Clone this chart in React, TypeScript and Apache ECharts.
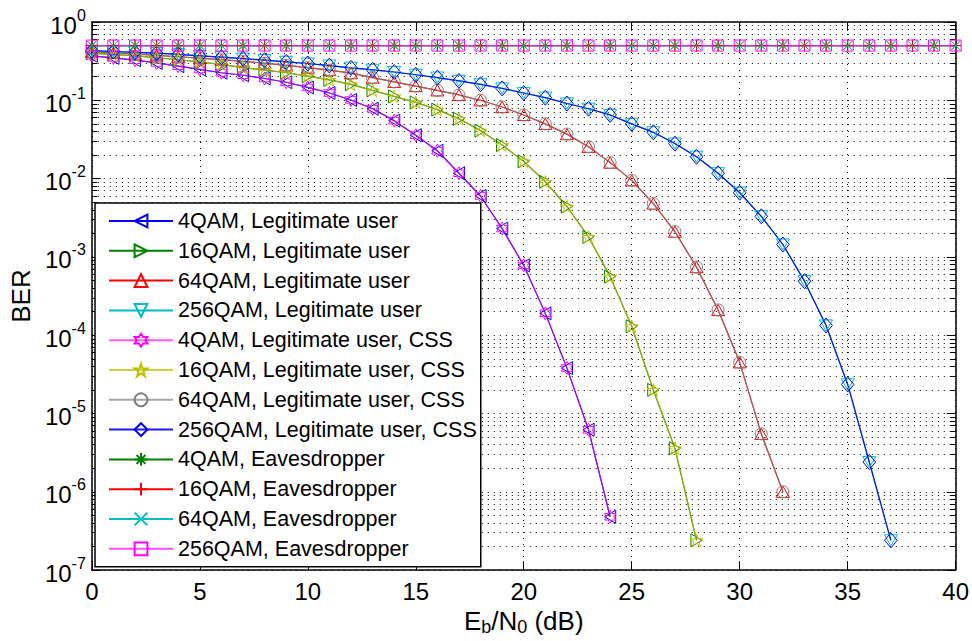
import React, { useEffect, useRef } from 'react';
import * as echarts from 'echarts';

// ---------------- data ----------------
const EBN0_4QAM = [0, 1, 2, 3, 4, 5, 6, 7, 8, 9, 10, 11, 12, 13, 14, 15, 16, 17, 18, 19, 20, 21, 22, 23, 24];
const BER_4QAM = [0.37, 0.348, 0.325, 0.3, 0.273, 0.248, 0.225, 0.209, 0.19, 0.17, 0.146, 0.124, 0.101, 0.078, 0.055, 0.0358, 0.0227, 0.0117, 0.006, 0.0023, 7.8e-4, 1.9e-4, 3.8e-5, 6.2e-6, 4.8e-7];

const EBN0_16QAM = [0, 1, 2, 3, 4, 5, 6, 7, 8, 9, 10, 11, 12, 13, 14, 15, 16, 17, 18, 19, 20, 21, 22, 23, 24, 25, 26, 27, 28];
const BER_16QAM = [0.4, 0.384, 0.372, 0.348, 0.332, 0.307, 0.287, 0.262, 0.243, 0.225, 0.204, 0.182, 0.16, 0.134, 0.112, 0.094, 0.076, 0.058, 0.041, 0.0268, 0.0166, 0.0091, 0.0044, 0.0018, 5.6e-4, 1.3e-4, 2.0e-5, 3.6e-6, 2.4e-7];

const EBN0_64QAM = [0, 1, 2, 3, 4, 5, 6, 7, 8, 9, 10, 11, 12, 13, 14, 15, 16, 17, 18, 19, 20, 21, 22, 23, 24, 25, 26, 27, 28, 29, 30, 31, 32];
const BER_64QAM = [0.415, 0.405, 0.39, 0.375, 0.36, 0.345, 0.33, 0.315, 0.298, 0.28, 0.262, 0.243, 0.222, 0.195, 0.172, 0.152, 0.134, 0.117, 0.1, 0.082, 0.065, 0.05, 0.037, 0.0255, 0.016, 0.0095, 0.0048, 0.0021, 7.4e-4, 2.1e-4, 4.5e-5, 5.5e-6, 1.0e-6];

const EBN0_256QAM = [0, 1, 2, 3, 4, 5, 6, 7, 8, 9, 10, 11, 12, 13, 14, 15, 16, 17, 18, 19, 20, 21, 22, 23, 24, 25, 26, 27, 28, 29, 30, 31, 32, 33, 34, 35, 36, 37];
const BER_256QAM = [0.43, 0.42, 0.41, 0.4, 0.385, 0.37, 0.355, 0.34, 0.325, 0.31, 0.295, 0.278, 0.26, 0.245, 0.23, 0.212, 0.195, 0.177, 0.16, 0.142, 0.124, 0.108, 0.091, 0.078, 0.065, 0.05, 0.039, 0.028, 0.019, 0.0117, 0.0066, 0.0033, 0.00144, 4.9e-4, 1.33e-4, 2.35e-5, 2.4e-6, 2.4e-7];

const EBN0_EVE = [0, 1, 2, 3, 4, 5, 6, 7, 8, 9, 10, 11, 12, 13, 14, 15, 16, 17, 18, 19, 20, 21, 22, 23, 24, 25, 26, 27, 28, 29, 30, 31, 32, 33, 34, 35, 36, 37, 38, 39, 40];
const BER_EVE = [0.5, 0.5, 0.5, 0.5, 0.5, 0.5, 0.5, 0.5, 0.5, 0.5, 0.5, 0.5, 0.5, 0.5, 0.5, 0.5, 0.5, 0.5, 0.5, 0.5, 0.5, 0.5, 0.5, 0.5, 0.5, 0.5, 0.5, 0.5, 0.5, 0.5, 0.5, 0.5, 0.5, 0.5, 0.5, 0.5, 0.5, 0.5, 0.5, 0.5, 0.5];

const LEGEND_NAMES = [
  '4QAM, Legitimate user',
  '16QAM, Legitimate user',
  '64QAM, Legitimate user',
  '256QAM, Legitimate user',
  '4QAM, Legitimate user, CSS',
  '16QAM, Legitimate user, CSS',
  '64QAM, Legitimate user, CSS',
  '256QAM, Legitimate user, CSS',
  '4QAM, Eavesdropper',
  '16QAM, Eavesdropper',
  '64QAM, Eavesdropper',
  '256QAM, Eavesdropper',
];

const X_TICKS = { min: 0, max: 40, interval: 5 };
const Y_DECADES = [-7, -6, -5, -4, -3, -2, -1];
const Y_MINOR_MULT = [2, 3, 4, 5, 6, 7, 8, 9];

// ---------------- styles ----------------
const FONT = '"Liberation Sans", Arial, Helvetica, sans-serif';

function starPath(points: number, rOuter: number, rInner: number, start: number) {
  let d = '';
  for (let i = 0; i < points * 2; i++) {
    const r = i % 2 === 0 ? rOuter : rInner;
    const a = start + (i * Math.PI) / points;
    const x = 50 + r * Math.cos(a);
    const y = 50 + r * Math.sin(a);
    d += (i === 0 ? 'M' : 'L') + x.toFixed(2) + ',' + y.toFixed(2) + ' ';
  }
  return 'path://' + d + 'Z';
}

const SYM = {
  triLeft: 'path://M0,50 L86,0 L86,100 Z',
  triRight: 'path://M86,50 L0,0 L0,100 Z',
  triUp: 'path://M50,0 L100,86 L0,86 Z',
  triDown: 'path://M0,0 L100,0 L50,86 Z',
  hexagram: starPath(6, 50, 50 / Math.sqrt(3), -Math.PI / 2),
  pentagram: starPath(5, 50, 19.1, -Math.PI / 2),
  circle: 'circle',
  diamond: 'path://M50,0 L92,50 L50,100 L8,50 Z',
  asterisk: 'path://M50,0 L50,100 M0,50 L100,50 M15,15 L85,85 M15,85 L85,15',
  plus: 'path://M50,0 L50,100 M0,50 L100,50',
  cross: 'path://M0,0 L100,100 M0,100 L100,0',
  square: 'path://M0,0 L100,0 L100,100 L0,100 Z',
};

function mkSeries(name: string, xs: number[], ys: number[], color: string, symbol: string, size: number | number[], opacity = 1) {
  return {
    type: 'line',
    name,
    data: xs.map((x, i) => [x, ys[i]]),
    symbol,
    symbolSize: size,
    symbolKeepAspect: true,
    showSymbol: true,
    showAllSymbol: true,
    silent: true,
    z: 3,
    lineStyle: { color, width: 1.2, opacity },
    itemStyle: { color: 'rgba(0,0,0,0)', borderColor: color, borderWidth: 1 },
    emphasis: { disabled: true },
  };
}

const BLUE = '#0000ff';
const GREEN = '#008000';
const RED = '#ff0000';
const CYAN = '#00bfbf';
const MAGENTA = '#ff00ff';
const YELLOW = '#bfbf00';
const GRAY = '#808080';

const minorValues: number[] = [];
Y_DECADES.forEach((e) => Y_MINOR_MULT.forEach((m) => minorValues.push(m * Math.pow(10, e))));

const axisLineStyle = { color: '#000', width: 1.5 };
const gridDots = { color: '#000', width: 1, type: [1, 5] as any };

const option: any = {
  animation: false,
  backgroundColor: '#fff',
  grid: { left: 88, right: 12, top: 22, bottom: 64, containLabel: false },
  legend: {
    data: LEGEND_NAMES,
    orient: 'vertical',
    left: 95,
    top: 203,
    backgroundColor: '#fff',
    borderColor: '#000',
    borderWidth: 1.5,
    borderRadius: 0,
    padding: [7, 4, 7, 13],
    itemWidth: 64,
    itemHeight: 16,
    itemGap: 7.8,
    selectedMode: false,
    textStyle: { fontSize: 21.5, fontFamily: FONT, color: '#000', lineHeight: 22 },
  },
  xAxis: [
    {
      type: 'value',
      ...X_TICKS,
      position: 'bottom',
      axisLine: { show: true, onZero: false, lineStyle: axisLineStyle },
      axisTick: { show: true, inside: true, length: 9, lineStyle: { color: '#000', width: 1 } },
      axisLabel: { fontSize: 24, fontFamily: FONT, color: '#000', margin: 9 },
      splitLine: { show: true, lineStyle: gridDots },
      name: '{n|E}{sub|b}{n|/N}{sub|0}{n| (dB)}',
      nameLocation: 'middle',
      nameGap: 32,
      nameTextStyle: {
        rich: {
          n: { fontSize: 26, fontFamily: FONT, color: '#000', lineHeight: 28, verticalAlign: 'top' },
          sub: { fontSize: 18, fontFamily: FONT, color: '#000', lineHeight: 12, verticalAlign: 'bottom' },
        },
      },
    },
    {
      type: 'value',
      ...X_TICKS,
      position: 'top',
      axisLine: { show: true, onZero: false, lineStyle: axisLineStyle },
      axisTick: { show: true, inside: true, length: 9, lineStyle: { color: '#000', width: 1 } },
      axisLabel: { show: false },
      splitLine: { show: false },
    },
  ],
  yAxis: [
    {
      type: 'log',
      logBase: 10,
      min: 1e-7,
      max: 1,
      interval: 1,
      position: 'left',
      axisLine: { show: true, onZero: false, lineStyle: axisLineStyle },
      axisTick: { show: true, inside: true, length: 9, lineStyle: { color: '#000', width: 1 } },
      axisLabel: {
        margin: 6,
        formatter: (v: number) => `{b|10}{s|${Math.round(Math.log10(v))}}`,
        rich: {
          b: { fontSize: 24, fontFamily: FONT, color: '#000', lineHeight: 30, verticalAlign: 'bottom' },
          s: { fontSize: 16, fontFamily: FONT, color: '#000', lineHeight: 12, verticalAlign: 'top' },
        },
      },
      splitLine: { show: true, lineStyle: gridDots },
      name: 'BER',
      nameLocation: 'middle',
      nameGap: 52,
      nameTextStyle: { fontSize: 26, fontFamily: FONT, color: '#000' },
    },
    {
      type: 'log',
      logBase: 10,
      min: 1e-7,
      max: 1,
      interval: 1,
      position: 'right',
      axisLine: { show: true, onZero: false, lineStyle: axisLineStyle },
      axisTick: { show: true, inside: true, length: 9, lineStyle: { color: '#000', width: 1 } },
      axisLabel: { show: false },
      splitLine: { show: false },
    },
  ],
  series: [
    {
      type: 'lines',
      coordinateSystem: 'cartesian2d',
      xAxisIndex: 0,
      yAxisIndex: 0,
      silent: true,
      z: 1,
      lineStyle: { color: '#000', width: 1, type: [1, 5], opacity: 1, curveness: 0 },
      data: minorValues.map((v) => ({ coords: [[X_TICKS.min, v], [X_TICKS.max, v]] })),
    },
    {
      type: 'lines',
      coordinateSystem: 'cartesian2d',
      xAxisIndex: 0,
      yAxisIndex: 0,
      silent: true,
      z: 1,
      lineStyle: { color: '#000', width: 1, type: 'solid', opacity: 1, curveness: 0 },
      data: minorValues.flatMap((v) => [
        { coords: [[X_TICKS.min, v], [X_TICKS.min + 0.25, v]] },
        { coords: [[X_TICKS.max, v], [X_TICKS.max - 0.25, v]] },
      ]),
    },
    mkSeries(LEGEND_NAMES[0], EBN0_4QAM, BER_4QAM, BLUE, SYM.triLeft, 13),
    mkSeries(LEGEND_NAMES[1], EBN0_16QAM, BER_16QAM, GREEN, SYM.triRight, 13),
    mkSeries(LEGEND_NAMES[2], EBN0_64QAM, BER_64QAM, RED, SYM.triUp, 13),
    mkSeries(LEGEND_NAMES[3], EBN0_256QAM, BER_256QAM, CYAN, SYM.triDown, 13),
    mkSeries(LEGEND_NAMES[4], EBN0_4QAM, BER_4QAM, MAGENTA, SYM.hexagram, 13, 0.65),
    mkSeries(LEGEND_NAMES[5], EBN0_16QAM, BER_16QAM, YELLOW, SYM.pentagram, 13, 0.75),
    mkSeries(LEGEND_NAMES[6], EBN0_64QAM, BER_64QAM, GRAY, SYM.circle, 12, 0.7),
    mkSeries(LEGEND_NAMES[7], EBN0_256QAM, BER_256QAM, BLUE, SYM.diamond, 15, 0.9),
    mkSeries(LEGEND_NAMES[8], EBN0_EVE, BER_EVE, GREEN, SYM.asterisk, 11),
    mkSeries(LEGEND_NAMES[9], EBN0_EVE, BER_EVE, RED, SYM.plus, 12),
    mkSeries(LEGEND_NAMES[10], EBN0_EVE, BER_EVE, CYAN, SYM.cross, 9),
    mkSeries(LEGEND_NAMES[11], EBN0_EVE, BER_EVE, MAGENTA, SYM.square, 11, 0.7),
  ],
};

export default function App() {
  const ref = useRef<HTMLDivElement>(null);
  useEffect(() => {
    if (!ref.current) return;
    const chart = echarts.init(ref.current, null, { renderer: 'svg' });
    chart.setOption(option);
    return () => chart.dispose();
  }, []);
  return (
    <div
      ref={ref}
      style={{ position: 'absolute', left: 0, top: 0, width: 972, height: 641, background: '#fff' }}
    />
  );
}
